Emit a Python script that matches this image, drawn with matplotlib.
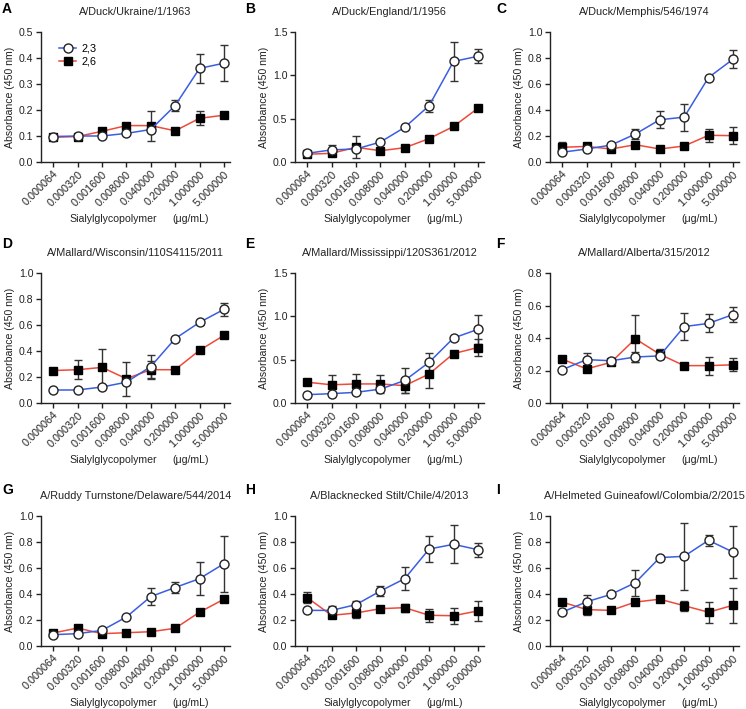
import matplotlib
matplotlib.use("Agg")
import matplotlib.pyplot as plt
import numpy as np

plt.rcParams['font.family'] = ['Liberation Sans', 'DejaVu Sans']

concentrations = ["0.000064", "0.000320", "0.001600", "0.008000",
                  "0.040000", "0.200000", "1.000000", "5.000000"]

letters = ["A", "B", "C", "D", "E", "F", "G", "H", "I"]
titles = ["A/Duck/Ukraine/1/1963", "A/Duck/England/1/1956", "A/Duck/Memphis/546/1974",
          "A/Mallard/Wisconsin/110S4115/2011", "A/Mallard/Mississippi/120S361/2012",
          "A/Mallard/Alberta/315/2012", "A/Ruddy Turnstone/Delaware/544/2014",
          "A/Blacknecked Stilt/Chile/4/2013", "A/Helmeted Guineafowl/Colombia/2/2015"]

# 2,3 series (open circles)
a23 = [
    [0.098, 0.10, 0.10, 0.11, 0.125, 0.217, 0.36, 0.38],
    [0.10, 0.14, 0.15, 0.23, 0.40, 0.65, 1.16, 1.22],
    [0.075, 0.10, 0.13, 0.215, 0.325, 0.345, 0.65, 0.79],
    [0.10, 0.10, 0.123, 0.16, 0.28, 0.495, 0.62, 0.72],
    [0.096, 0.108, 0.123, 0.16, 0.26, 0.47, 0.75, 0.85],
    [0.205, 0.267, 0.26, 0.283, 0.29, 0.47, 0.49, 0.544],
    [0.087, 0.095, 0.12, 0.223, 0.38, 0.45, 0.518, 0.633],
    [0.274, 0.274, 0.318, 0.423, 0.518, 0.746, 0.782, 0.741],
    [0.26, 0.34, 0.397, 0.487, 0.68, 0.69, 0.813, 0.723],
]
e23 = [
    [0, 0, 0, 0, 0, 0.02, 0.057, 0.07],
    [0, 0.06, 0, 0, 0, 0.07, 0.23, 0.08],
    [0, 0, 0, 0.04, 0.065, 0.105, 0, 0.07],
    [0, 0, 0, 0, 0.09, 0, 0.02, 0.05],
    [0, 0, 0, 0, 0.14, 0.11, 0, 0.17],
    [0, 0.04, 0, 0.03, 0, 0.085, 0.055, 0.045],
    [0, 0, 0, 0, 0.065, 0.045, 0.125, 0.215],
    [0, 0.03, 0.03, 0.035, 0.09, 0.1, 0.145, 0.055],
    [0, 0.05, 0, 0.1, 0, 0.26, 0.04, 0.2],
]
# 2,6 series (filled squares)
a26 = [
    [0.095, 0.098, 0.118, 0.14, 0.14, 0.12, 0.168, 0.18],
    [0.09, 0.10, 0.17, 0.13, 0.165, 0.27, 0.41, 0.62],
    [0.113, 0.12, 0.10, 0.133, 0.10, 0.123, 0.205, 0.203],
    [0.25, 0.256, 0.274, 0.187, 0.256, 0.256, 0.405, 0.52],
    [0.24, 0.21, 0.22, 0.22, 0.20, 0.335, 0.57, 0.64],
    [0.27, 0.21, 0.25, 0.395, 0.30, 0.23, 0.23, 0.235],
    [0.10, 0.138, 0.095, 0.102, 0.11, 0.136, 0.26, 0.36],
    [0.372, 0.236, 0.254, 0.287, 0.295, 0.236, 0.233, 0.27],
    [0.338, 0.28, 0.274, 0.338, 0.36, 0.31, 0.26, 0.313],
]
e26 = [
    [0, 0, 0, 0, 0.058, 0, 0.027, 0],
    [0, 0, 0.125, 0, 0, 0, 0, 0],
    [0.04, 0, 0, 0, 0, 0, 0.05, 0.065],
    [0, 0.075, 0.14, 0.13, 0.07, 0, 0.02, 0],
    [0, 0.11, 0.11, 0.1, 0.09, 0.16, 0, 0.1],
    [0, 0, 0, 0.145, 0.03, 0, 0.055, 0.04],
    [0, 0, 0, 0, 0, 0, 0, 0],
    [0.045, 0, 0.04, 0, 0.03, 0.05, 0.06, 0.08],
    [0, 0.04, 0, 0, 0.02, 0.04, 0.08, 0.135],
]
ymax = [0.5, 1.5, 1.0, 1.0, 1.5, 0.8, 1.0, 1.0, 1.0]
ystep = [0.1, 0.5, 0.2, 0.2, 0.5, 0.2, 0.2, 0.2, 0.2]

W, H = 746, 709
fig = plt.figure(figsize=(W / 100, H / 100), dpi=100)

col_left = [41, 295, 550]
row_bottom = [162, 403, 646]
ax_w, ax_h = 189, 130

blue = "#3a5ee0"
red = "#ee4a3a"
tc = "#222222"
x = np.arange(len(concentrations))

for i in range(9):
    r, c = divmod(i, 3)
    ax = fig.add_axes([col_left[c] / W, 1 - row_bottom[r] / H, ax_w / W, ax_h / H])
    ax.errorbar(x, a23[i], yerr=e23[i], fmt='none', ecolor='#333333', elinewidth=1.0,
                capsize=3, capthick=1.0, zorder=2)
    ax.errorbar(x, a26[i], yerr=e26[i], fmt='none', ecolor='#333333', elinewidth=1.0,
                capsize=3, capthick=1.0, zorder=2)
    ax.plot(x, a23[i], color=blue, lw=1.1, marker='o', ms=6.5, mfc='white',
            mec='#222222', mew=1.0, zorder=4, label="2,3")
    ax.plot(x, a26[i], color=red, lw=1.1, marker='s', ms=5.5, mfc='black',
            mec='black', zorder=3, label="2,6")
    ax.set_xlim(-0.5, 7.25)
    ax.set_ylim(0, ymax[i])
    ax.set_yticks(np.round(np.arange(0, ymax[i] + 1e-9, ystep[i]), 2))
    ax.yaxis.set_major_formatter(matplotlib.ticker.FormatStrFormatter('%.1f'))
    ax.set_xticks(x)
    ax.set_xticklabels(concentrations, rotation=45, ha='right', rotation_mode='anchor')
    ax.spines['top'].set_visible(False)
    ax.spines['right'].set_visible(False)
    for s in ('left', 'bottom'):
        ax.spines[s].set_linewidth(1.0)
        ax.spines[s].set_color('#222222')
    ax.tick_params(axis='both', direction='out', length=3.5, width=1.0,
                   labelsize=7.6, colors='#222222', labelcolor=tc, pad=2)
    ax.tick_params(axis='x', labelsize=7.8, pad=1.5)
    ax.set_ylabel("Absorbance (450 nm)", fontsize=7.6, color=tc, labelpad=3)
    ax.set_title(titles[i], fontsize=7.8, color=tc, pad=12)
    ax.text(0.38, -0.44, "Sialylglycopolymer", transform=ax.transAxes,
            ha='center', va='center', fontsize=7.6, color=tc)
    ax.text(0.79, -0.44, "(\u03bcg/mL)", transform=ax.transAxes,
            ha='center', va='center', fontsize=7.6, color=tc)
    lx = [2, 245, 496][c]
    ly = [9, 244, 490][r]
    fig.text(lx / W, 1 - ly / H, letters[i], fontsize=10, fontweight='bold',
             ha='left', va='center', color='black')
    if i == 0:
        ax.legend(loc='upper left', bbox_to_anchor=(0.095, 0.91), frameon=False,
                  fontsize=7.8, handlelength=1.6, handletextpad=0.45,
                  labelspacing=0.3, borderaxespad=0.0, borderpad=0.0)

fig.savefig("out.png", dpi=100)
